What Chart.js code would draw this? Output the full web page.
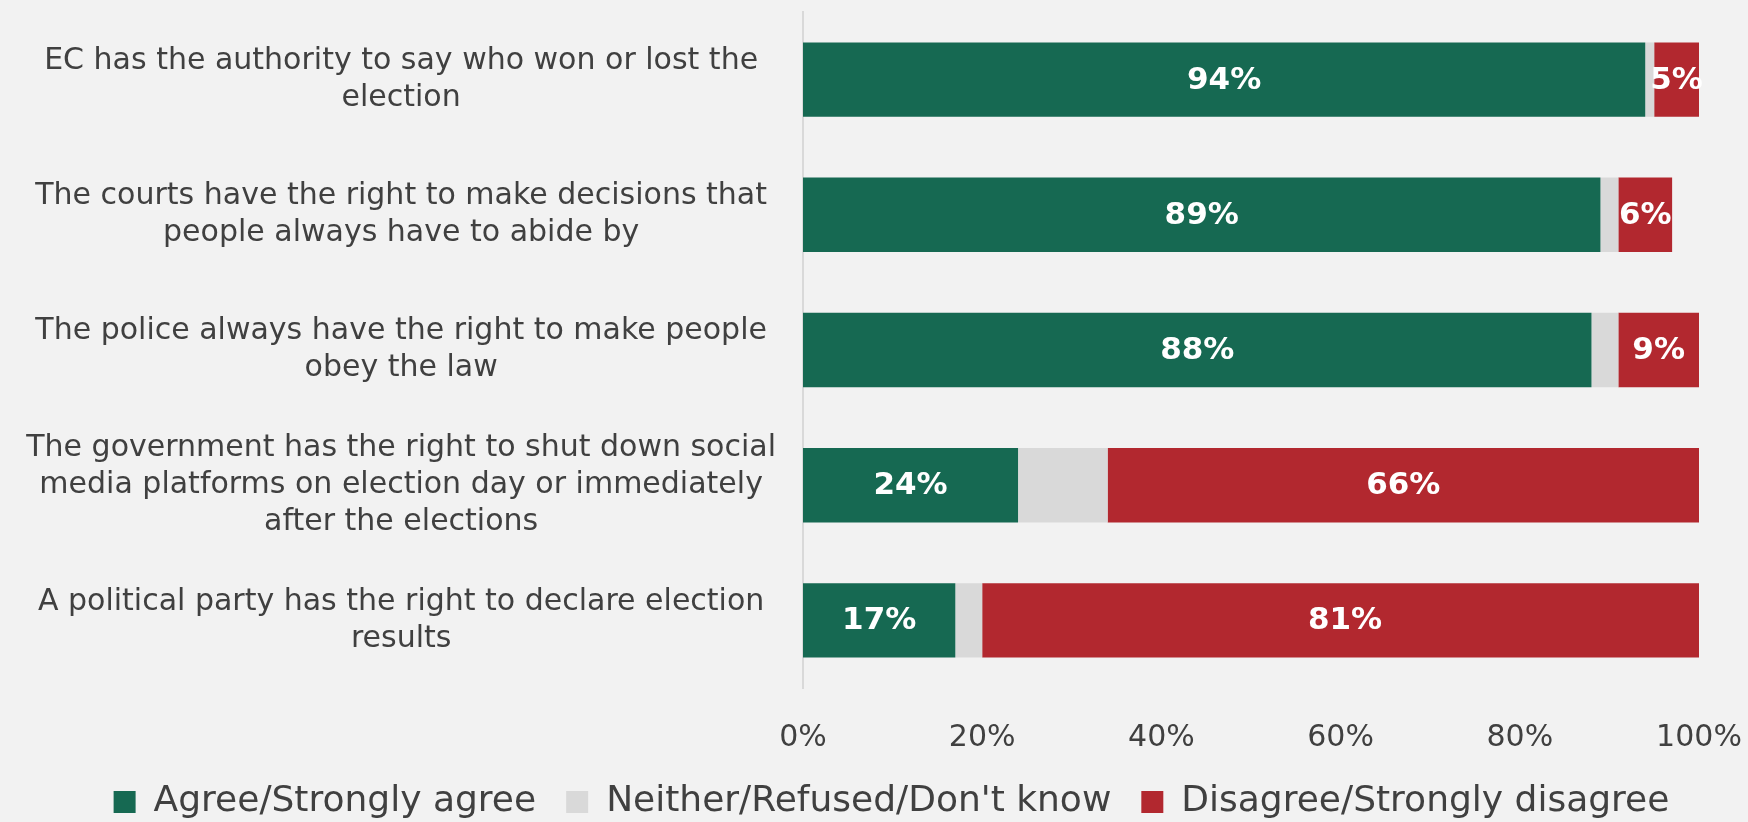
<!DOCTYPE html>
<html>
<head>
<meta charset="utf-8">
<script src="https://cdn.jsdelivr.net/npm/chart.js@4.4.1/dist/chart.umd.min.js"></script>
<style>
  html, body { margin: 0; padding: 0; background: #f2f2f2; }
  #wrap { width: 1748px; height: 822px; }
</style>
</head>
<body>
<div id="wrap"><canvas id="myChart" width="1748" height="822"></canvas></div>
<script>
// Statements (wrapped the way they are shown on the axis)
const statements = [
  ['EC has the authority to say who won or lost the', 'election'],
  ['The courts have the right to make decisions that', 'people always have to abide by'],
  ['The police always have the right to make people', 'obey the law'],
  ['The government has the right to shut down social', 'media platforms on election day or immediately', 'after the elections'],
  ['A political party has the right to declare election', 'results']
];

// Share of respondents (%)
const agree = [94, 89, 88, 24, 17];
const neither = [1, 2, 3, 10, 3];
const disagree = [5, 6, 9, 66, 81];

const seriesNames = ['Agree/Strongly agree', "Neither/Refused/Don't know", 'Disagree/Strongly disagree'];
const xTicks = [0, 20, 40, 60, 80, 100];

const FONT = "'DejaVu Sans', sans-serif";
const TEXT = '#404040';

// Percent labels inside the green and red segments
const barLabels = {
  id: 'barLabels',
  afterDatasetsDraw(chart) {
    const ctx = chart.ctx;
    ctx.save();
    ctx.font = 'bold 31px ' + FONT;
    ctx.fillStyle = '#ffffff';
    ctx.textAlign = 'center';
    ctx.textBaseline = 'middle';
    [0, 2].forEach(i => {
      const meta = chart.getDatasetMeta(i);
      meta.data.forEach((bar, j) => {
        const value = chart.data.datasets[i].data[j];
        const x = (bar.x + bar.base) / 2;
        ctx.fillText(value + '%', x, bar.y + 1);
      });
    });
    ctx.restore();
  }
};

// Nudge the legend row a bit to the right of the canvas centre
const legendShift = {
  id: 'legendShift',
  afterLayout(chart) {
    chart.legend.left += 42;
    chart.legend.right += 42;
  }
};

const ctx = document.querySelector('#myChart').getContext('2d');

const myChart = new Chart(ctx, {
  type: 'bar',
  data: {
    labels: statements,
    datasets: [
      { label: seriesNames[0], data: agree, backgroundColor: '#166952' },
      { label: seriesNames[1], data: neither, backgroundColor: '#d9d9d9' },
      { label: seriesNames[2], data: disagree, backgroundColor: '#b2282f' }
    ]
  },
  options: {
    indexAxis: 'y',
    responsive: false,
    animation: false,
    datasets: {
      bar: { barPercentage: 0.55, categoryPercentage: 1 }
    },
    layout: {
      // negative bottom lets the legend's own padding hang below the canvas
      padding: { top: 12, right: 49, bottom: -8, left: 0 }
    },
    scales: {
      x: {
        stacked: true,
        min: 0,
        max: 100,
        afterBuildTicks: scale => {
          scale.ticks = xTicks.map(v => ({ value: v }));
        },
        afterFit: scale => {
          scale.height = 66;
          scale.paddingLeft = 0;
          scale.paddingRight = 0;
        },
        grid: { display: false, drawTicks: false },
        border: { display: false },
        ticks: {
          padding: 32,
          color: TEXT,
          font: { family: FONT, size: 30 },
          callback: v => v + '%'
        }
      },
      y: {
        stacked: true,
        afterFit: scale => {
          scale.width = 803;
          scale.paddingTop = 0;
          scale.paddingBottom = 0;
        },
        grid: { display: false, drawTicks: false },
        border: { display: true, color: '#d9d9d9', width: 2 },
        ticks: {
          padding: 27,
          crossAlign: 'center',
          color: TEXT,
          font: { family: FONT, size: 30, lineHeight: 1.23 }
        }
      }
    },
    plugins: {
      legend: {
        position: 'bottom',
        labels: {
          color: TEXT,
          font: { family: FONT, size: 36 },
          boxWidth: 22,
          boxHeight: 22,
          padding: 30
        }
      },
      tooltip: { enabled: false }
    }
  },
  plugins: [barLabels, legendShift]
});
</script>
</body>
</html>
